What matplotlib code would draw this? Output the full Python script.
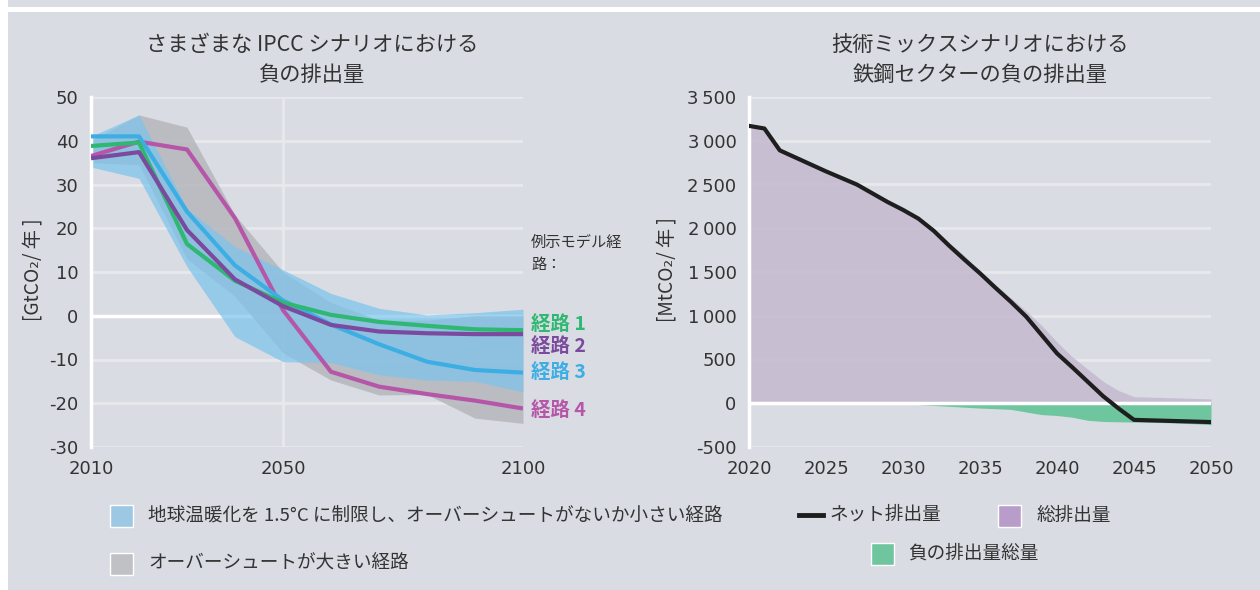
import matplotlib
matplotlib.use("Agg")
import matplotlib.pyplot as plt
from matplotlib.patches import Rectangle
from matplotlib.lines import Line2D

# ---------------- data ----------------
years_ipcc = [2010, 2020, 2030, 2040, 2050, 2060, 2070, 2080, 2090, 2100]
path1 = [38.8, 39.6, 16.4, 8.0, 3.0, 0.2, -1.4, -2.3, -3.1, -3.3]
path2 = [36.0, 37.4, 19.6, 8.3, 2.2, -2.1, -3.6, -4.0, -4.2, -4.2]
path3 = [41.0, 41.0, 23.8, 11.5, 3.5, -2.0, -6.5, -10.5, -12.4, -13.0]
path4 = [36.5, 39.8, 38.0, 22.3, 1.3, -12.8, -16.2, -17.9, -19.4, -21.2]
band15_hi = [41.0, 45.9, 24.5, 15.8, 10.5, 5.1, 1.7, 0.2, 0.7, 1.5]
band15_lo = [34.0, 31.4, 11.2, -4.8, -10.5, -10.7, -13.5, -14.7, -15.0, -17.4]
bandos_hi = [40.0, 45.9, 43.1, 23.0, 10.0, 3.0, -1.0, -1.0, 0.0, 0.0]
bandos_lo = [35.0, 34.5, 13.0, 4.4, -8.5, -14.7, -18.1, -18.0, -23.4, -24.6]
path_labels = ["経路 1", "経路 2", "経路 3", "経路 4"]

years_steel = list(range(2020, 2051))
net = [3170, 3140, 2890, 2810, 2730, 2650, 2575, 2500, 2400, 2300,
       2210, 2110, 1970, 1800, 1640, 1485, 1320, 1160, 990, 780,
       570, 410, 245, 80, -60, -190, -195, -200, -205, -210, -215]
gross = [3170, 3140, 2890, 2810, 2730, 2650, 2575, 2500, 2400, 2300,
         2215, 2125, 1995, 1835, 1685, 1505, 1355, 1205, 1055, 890,
         700, 530, 390, 250, 145, 75, 70, 65, 60, 55, 50]
negative = [0, 0, 0, 0, 0, 0, 0, 0, 0, 0,
            -5, -15, -25, -35, -45, -55, -62, -70, -100, -130,
            -140, -160, -195, -208, -212, -215, -218, -222, -228, -235, -245]

left_yticks = [50, 40, 30, 20, 10, 0, -10, -20, -30]
left_xticks = [2010, 2050, 2100]
right_yticks = [3500, 3000, 2500, 2000, 1500, 1000, 500, 0, -500]
right_xticks = [2020, 2025, 2030, 2035, 2040, 2045, 2050]

# ---------------- style ----------------
W, H = 1260, 590
BG = "#d9dce3"
GRID = "#e8e9ed"
TXT = "#333333"
JP = ["Noto Sans CJK JP", "DejaVu Sans"]
NUM = ["DejaVu Sans"]
C1, C2, C3, C4 = "#2eb872", "#7b4a9e", "#3daee3", "#b556a8"

fig = plt.figure(figsize=(W / 100, H / 100), dpi=100, facecolor="white")


def fx(px):
    return px / W


def fy(py):
    return 1 - py / H


# background panels
fig.patches.append(Rectangle((fx(8), 0), 1 - fx(8), fy(12), transform=fig.transFigure,
                             facecolor=BG, edgecolor="none", zorder=-10))
fig.patches.append(Rectangle((fx(8), fy(7)), 1 - fx(8), 7 / H, transform=fig.transFigure,
                             facecolor=BG, edgecolor="none", zorder=-10))


def add_ax(x0, x1, y0, y1):
    ax = fig.add_axes([fx(x0), fy(y1), (x1 - x0) / W, (y1 - y0) / H])
    ax.set_facecolor("none")
    for s in ["top", "right", "bottom"]:
        ax.spines[s].set_visible(False)
    ax.spines["left"].set_color("white")
    ax.spines["left"].set_linewidth(2.5)
    ax.tick_params(length=0, labelsize=13, colors=TXT)
    return ax


# ---------------- left chart ----------------
axL = add_ax(91, 523, 97, 447)
axL.set_xlim(2010, 2100)
axL.set_ylim(-30, 50)
for v in left_yticks:
    axL.axhline(v, color=GRID, lw=2, zorder=0)
axL.axvline(2050, color=GRID, lw=2, zorder=0)
axL.axhline(0, color="white", lw=2.5, zorder=0.5)
axL.fill_between(years_ipcc, bandos_lo, bandos_hi, color="#b3b4b9", alpha=0.8, lw=0, zorder=1)
axL.fill_between(years_ipcc, band15_lo, band15_hi, color="#7cc4ec", alpha=0.72, lw=0, zorder=2)
for ys, c in [(path4, C4), (path3, C3), (path1, C1), (path2, C2)]:
    axL.plot(years_ipcc, ys, color=c, lw=3, zorder=3, solid_capstyle="butt")
axL.set_yticks(left_yticks)
axL.set_yticklabels([str(v) for v in left_yticks], family=NUM)
axL.set_xticks(left_xticks)
axL.set_xticklabels([str(v) for v in left_xticks], family=NUM)
axL.tick_params(axis="y", pad=9)
axL.tick_params(axis="x", pad=9)

fig.text(fx(312), fy(45), "さまざまな IPCC シナリオにおける", ha="center", va="center",
         fontsize=15.3, color=TXT, family=JP)
fig.text(fx(312), fy(75), "負の排出量", ha="center", va="center",
         fontsize=15.3, color=TXT, family=JP)
fig.text(fx(33), fy(270), "[GtCO₂/ 年 ]", ha="center", va="center", rotation=90,
         fontsize=13.8, color=TXT, family=JP)
fig.text(fx(531), fy(242), "例示モデル経", ha="left", va="center",
         fontsize=11, color=TXT, family=JP)
fig.text(fx(531), fy(265), "路：", ha="left", va="center",
         fontsize=11, color=TXT, family=JP)
for lab, yy, c in zip(path_labels, [324, 346, 372, 410], [C1, C2, C3, C4]):
    fig.text(fx(531), fy(yy), lab, ha="left", va="center", fontsize=14,
             fontweight="bold", color=c, family=JP)

# ---------------- right chart ----------------
axR = add_ax(749, 1211, 97, 447)
axR.set_xlim(2020, 2050)
axR.set_ylim(-500, 3500)
for v in right_yticks:
    axR.axhline(v, color=GRID, lw=2, zorder=0)
axR.fill_between(years_steel, 0, gross, color="#c5b9d0", alpha=0.85, lw=0, zorder=1)
axR.fill_between(years_steel, negative, 0, color="#6ec69e", lw=0, zorder=1)
axR.axhline(0, color="white", lw=2.5, zorder=2)
axR.plot(years_steel, net, color="#1e1e1e", lw=3, zorder=3)
axR.set_yticks(right_yticks)
axR.set_yticklabels([f"{v:,}".replace(",", "\u2009") for v in right_yticks], family=NUM)
axR.set_xticks(right_xticks)
axR.set_xticklabels([str(v) for v in right_xticks], family=NUM)
axR.tick_params(axis="y", pad=9)
axR.tick_params(axis="x", pad=9)

fig.text(fx(980), fy(45), "技術ミックスシナリオにおける", ha="center", va="center",
         fontsize=15.3, color=TXT, family=JP)
fig.text(fx(980), fy(75), "鉄鋼セクターの負の排出量", ha="center", va="center",
         fontsize=15.3, color=TXT, family=JP)
fig.text(fx(667), fy(270), "[MtCO₂/ 年 ]", ha="center", va="center", rotation=90,
         fontsize=13.8, color=TXT, family=JP)

# ---------------- legends ----------------
def patch(x, y, c):
    fig.patches.append(Rectangle((fx(x), fy(y + 22)), 23 / W, 22 / H, transform=fig.transFigure,
                                 facecolor=c, edgecolor="white", lw=1, zorder=5))


LEGFS = 13.4
patch(110, 505, "#9dc8e4")
fig.text(fx(148), fy(516), "地球温暖化を 1.5°C に制限し、オーバーシュートがないか小さい経路",
         ha="left", va="center", fontsize=LEGFS, color=TXT, family=JP)
patch(110, 553, "#c0c1c5")
fig.text(fx(148), fy(564), "オーバーシュートが大きい経路",
         ha="left", va="center", fontsize=LEGFS, color=TXT, family=JP)

fig.lines.append(Line2D([fx(799), fx(823)], [fy(515), fy(515)], transform=fig.transFigure,
                        color="#1e1e1e", lw=3.5))
fig.text(fx(830), fy(515), "ネット排出量", ha="left", va="center",
         fontsize=LEGFS, color=TXT, family=JP)
patch(998, 505, "#b89cc9")
fig.text(fx(1036), fy(516), "総排出量", ha="left", va="center",
         fontsize=LEGFS, color=TXT, family=JP)
patch(871, 543, "#6fc59d")
fig.text(fx(908), fy(554), "負の排出量総量", ha="left", va="center",
         fontsize=LEGFS, color=TXT, family=JP)

fig.savefig("out.png", dpi=100, facecolor="white")
